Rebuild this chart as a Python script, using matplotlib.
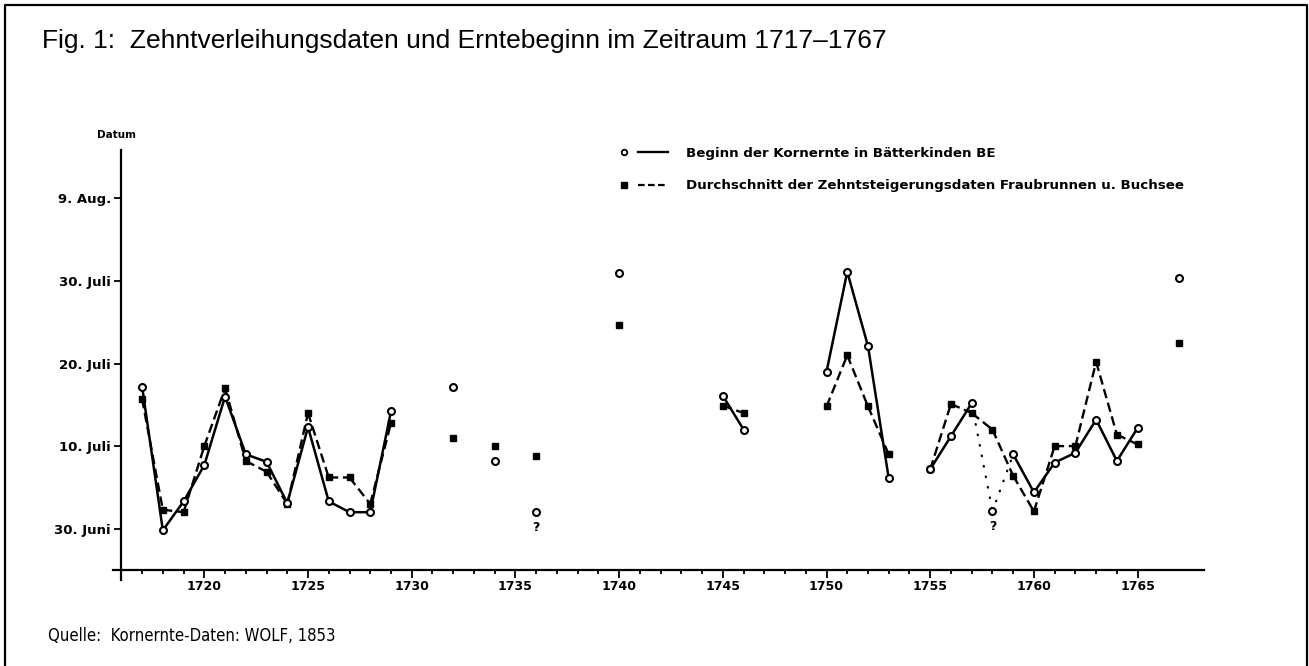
import numpy as np
import matplotlib
matplotlib.use("Agg")
import matplotlib.pyplot as plt
from matplotlib.lines import Line2D
from matplotlib.legend_handler import HandlerTuple

# Tage nach dem 30. Juni (0 = 30. Juni, 10 = 10. Juli, 40 = 9. Aug.)
ernte_jahre = [1717, 1718, 1719, 1720, 1721, 1722, 1723, 1724, 1725, 1726,
               1727, 1728, 1729, 1732, 1734, 1736, 1740, 1745, 1746, 1750,
               1751, 1752, 1753, 1755, 1756, 1757, 1758, 1759, 1760, 1761,
               1762, 1763, 1764, 1765, 1767]
ernte_tag = [17.2, -0.2, 3.3, 7.7, 16.0, 9.0, 8.1, 3.1, 12.3, 3.3,
             2.0, 2.0, 14.2, 17.2, 8.2, 2.0, 31.0, 16.1, 12.0, 19.0,
             31.1, 22.1, 6.1, 7.2, 11.2, 15.2, 2.1, 9.0, 4.4, 8.0,
             9.2, 13.2, 8.2, 12.2, 30.3]
ernte_fraglich = [1736, 1758]

zehnt_jahre = [1717, 1718, 1719, 1720, 1721, 1722, 1723, 1724, 1725, 1726,
               1727, 1728, 1729, 1732, 1734, 1736, 1740, 1745, 1746, 1750,
               1751, 1752, 1753, 1755, 1756, 1757, 1758, 1759, 1760, 1761,
               1762, 1763, 1764, 1765, 1767]
zehnt_tag = [15.7, 2.3, 2.0, 10.0, 17.0, 8.2, 6.9, 3.0, 14.0, 6.2,
             6.2, 3.0, 12.8, 11.0, 10.0, 8.8, 24.7, 14.9, 14.0, 14.8,
             21.0, 14.8, 9.0, 7.2, 15.1, 14.0, 12.0, 6.4, 2.1, 10.0,
             10.0, 20.2, 11.4, 10.2, 22.5]

y_ticks = [0, 10, 20, 30, 40]
y_labels = ["30. Juni", "10. Juli", "20. Juli", "30. Juli", "9. Aug."]
x_major = list(range(1720, 1766, 5))
x_minor = list(range(1717, 1765))

TITEL = "Fig. 1:  Zehntverleihungsdaten und Erntebeginn im Zeitraum 1717\u20131767"
QUELLE = "Quelle:  Kornernte-Daten: WOLF, 1853"
LEG_ERNTE = "Beginn der Kornernte in B\u00e4tterkinden BE"
LEG_ZEHNT = "Durchschnitt der Zehntsteigerungsdaten Fraubrunnen u. Buchsee"


def split_lines(jahre, werte, fraglich=()):
    """ Linie mit Luecken: normale Segmente und punktierte Segmente
    (Segmente, die an einen fraglichen Wert grenzen)."""
    fest_x, fest_y, punkt_x, punkt_y = [], [], [], []
    for i in range(len(jahre) - 1):
        if jahre[i + 1] - jahre[i] != 1:
            continue
        seg_x = [jahre[i], jahre[i + 1], np.nan]
        seg_y = [werte[i], werte[i + 1], np.nan]
        if jahre[i] in fraglich or jahre[i + 1] in fraglich:
            punkt_x += seg_x
            punkt_y += seg_y
        else:
            fest_x += seg_x
            fest_y += seg_y
    return fest_x, fest_y, punkt_x, punkt_y


W, H = 1309, 666
fig = plt.figure(figsize=(W / 100, H / 100), dpi=100)
ax = fig.add_axes([113 / W, 86 / H, 1091 / W, 430 / H])

px_per_year = 20.74
px_per_day = 8.26
ax.set_xlim(1717 - 29.1 / px_per_year, 1717 + 1061.9 / px_per_year)
ax.set_ylim((528.7 - 580) / px_per_day, (528.7 - 150) / px_per_day)

# Achsen
for s in ["top", "right"]:
    ax.spines[s].set_visible(False)
ax.spines["left"].set_position(("data", 1716.0))
ax.spines["bottom"].set_position(("data", -5.0))
ax.spines["left"].set_linewidth(1.6)
ax.spines["bottom"].set_linewidth(1.6)

ax.set_xticks(x_major)
ax.set_xticks(x_minor, minor=True)
ax.set_xticklabels([str(j) for j in x_major])
ax.set_yticks(y_ticks)
ax.set_yticklabels(y_labels)
ax.tick_params(axis="x", which="major", direction="out", length=5.8, width=1.3,
               pad=1.5, labelsize=9)
ax.tick_params(axis="x", which="minor", direction="out", length=2.8, width=1.3)
ax.tick_params(axis="y", direction="out", length=5, width=1.3, pad=2.5,
               labelsize=9.5)
for lab in ax.get_xticklabels() + ax.get_yticklabels():
    lab.set_fontweight("bold")

# Linien
ex, ey, epx, epy = split_lines(ernte_jahre, ernte_tag, ernte_fraglich)
zx, zy, _, _ = split_lines(zehnt_jahre, zehnt_tag)

ax.plot(zx, zy, color="black", lw=1.7, linestyle=(0, (4, 2)), zorder=2)
ax.plot(ex, ey, color="black", lw=1.8, zorder=3, solid_joinstyle="miter")
ax.plot(epx, epy, color="black", lw=1.6, linestyle=(0, (0.3, 4.5)),
        dash_capstyle="round", zorder=3)
ax.plot(zehnt_jahre, zehnt_tag, linestyle="none", marker="s", markersize=5,
        color="black", zorder=4)
ax.plot(ernte_jahre, ernte_tag, linestyle="none", marker="o", markersize=5,
        markerfacecolor="white", markeredgecolor="black", markeredgewidth=1.5,
        zorder=5)

for j, t in zip(ernte_jahre, ernte_tag):
    if j in ernte_fraglich:
        ax.annotate("?", (j, t), xytext=(0, -11), textcoords="offset points",
                    ha="center", va="center", fontsize=9, fontweight="bold")

# Legende
h_ernte = (Line2D([], [], linestyle="none", marker="o", markersize=4,
                  markerfacecolor="white", markeredgecolor="black",
                  markeredgewidth=1.3),
           Line2D([], [], color="black", lw=1.7))
h_zehnt = (Line2D([], [], linestyle="none", marker="s", markersize=4,
                  color="black"),
           Line2D([], [], color="black", lw=1.6, linestyle=(0, (3, 1.5))))
leg = ax.legend([h_ernte, h_zehnt], [LEG_ERNTE, LEG_ZEHNT],
                handler_map={tuple: HandlerTuple(ndivide=None, pad=0)},
                loc="upper left", bbox_to_anchor=(609 / W, 1 - 147 / H),
                bbox_transform=fig.transFigure, frameon=False,
                borderpad=0, borderaxespad=0, handlelength=4.4,
                handletextpad=1.4, labelspacing=1.45,
                prop={"size": 9.6, "weight": "bold"})

# Texte
fig.text(42 / W, 1 - 41 / H, TITEL, ha="left", va="center",
         fontsize=19, family="Liberation Sans")
fig.text(97 / W, 1 - 135 / H, "Datum", ha="left", va="center",
         fontsize=7.5, fontweight="bold")
fig.text(48 / W, 1 - 636 / H, QUELLE, ha="left", va="center",
         fontsize=12, family="DejaVu Sans", fontstretch="condensed")

# Rahmen (oben, links, rechts)
fig.add_artist(Line2D([4.5 / W, 4.5 / W, 1306.5 / W, 1306.5 / W],
                      [0, 1 - 5 / H, 1 - 5 / H, 0],
                      transform=fig.transFigure, color="black", lw=1.6))

fig.savefig("out.png", dpi=100)
